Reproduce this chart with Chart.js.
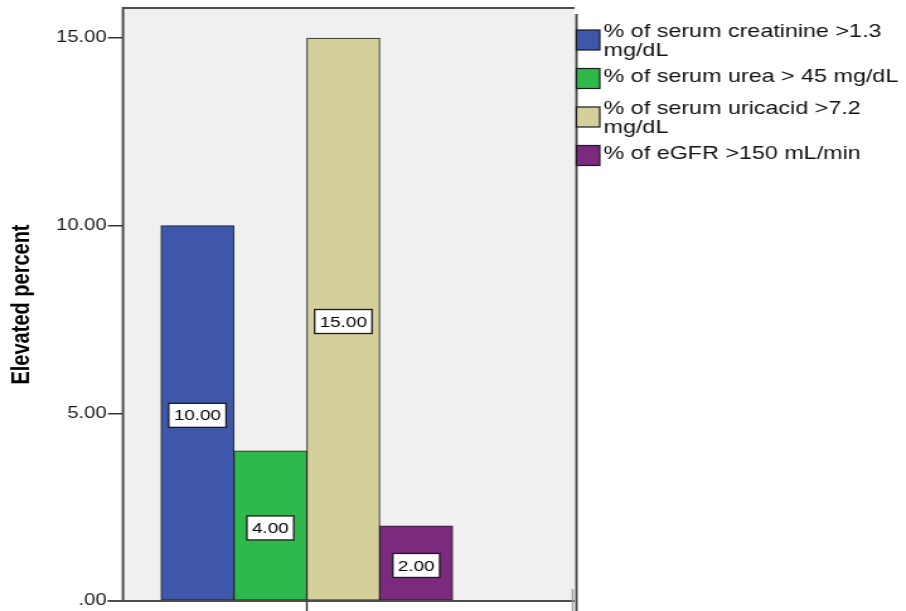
<!DOCTYPE html>
<html>
<head>
<meta charset="utf-8">
<script src="https://cdn.jsdelivr.net/npm/chart.js@4/dist/chart.umd.min.js"></script>
<style>
  html, body { margin: 0; padding: 0; background: #ffffff; overflow: hidden; }
  /* the whole figure is drawn narrow and widened, as in the exported original */
  #wrap { width: 719px; height: 611px; transform: scaleX(1.26); transform-origin: 0 0; }
  canvas { display: block; }
</style>
</head>
<body>
<div id="wrap"><canvas id="c" width="719" height="611"></canvas></div>
<script>
// Series shown as one clustered group of bars
const seriesNames = [
  '% of serum creatinine >1.3 mg/dL',
  '% of serum urea > 45 mg/dL',
  '% of serum uricacid >7.2 mg/dL',
  '% of eGFR >150 mL/min'
];
const seriesValues = [10, 4, 15, 2];
const seriesColors = ['#3e57aa', '#2fb84b', '#d4cf9b', '#7b2a7e'];
const yTickValues = [0, 5, 10, 15];
const yTitle = 'Elevated percent';

const FONT = "'Liberation Sans', Arial, sans-serif";
const fmt = v => v.toFixed(2).replace(/^0(?=\.)/, '');

const datasets = seriesNames.map((name, i) => ({
  label: name,
  data: [{ x: i + 1, y: seriesValues[i] }],
  backgroundColor: seriesColors[i],
  borderColor: '#1c1c1c',
  borderWidth: 1,
  borderSkipped: false,
  grouped: false,
  barPercentage: 1,
  categoryPercentage: 1
}));

// wraps a legend entry into lines that fit the given width
function wrapText(ctx, text, maxW) {
  const words = text.split(' ');
  const lines = [];
  let cur = '';
  for (const w of words) {
    const t = cur ? cur + ' ' + w : w;
    if (cur && ctx.measureText(t).width > maxW) { lines.push(cur); cur = w; }
    else cur = t;
  }
  if (cur) lines.push(cur);
  return lines;
}

const plotDecor = {
  id: 'plotDecor',
  beforeDraw(chart) {
    const { ctx, chartArea: a } = chart;
    ctx.save();
    ctx.fillStyle = '#f0f0f0';
    ctx.fillRect(a.left, a.top, a.right - a.left, a.bottom - a.top);
    ctx.restore();
  },
  afterDatasetsDraw(chart) {
    const { ctx, chartArea: a, scales } = chart;
    const H = chart.height;
    ctx.save();
    // frame
    ctx.strokeStyle = '#4d4d4d';
    ctx.lineWidth = 2;
    ctx.beginPath();
    ctx.moveTo(a.left, a.bottom); ctx.lineTo(a.left, a.top); ctx.lineTo(a.right, a.top);
    ctx.moveTo(a.left - 12, a.bottom); ctx.lineTo(a.right, a.bottom);
    ctx.moveTo(a.right + 1.5, a.top + 6); ctx.lineTo(a.right + 1.5, H);
    ctx.stroke();
    // category tick under the group
    ctx.lineWidth = 1.4;
    ctx.strokeStyle = '#333333';
    const cx = scales.x.getPixelForValue((1 + seriesValues.length) / 2);
    ctx.beginPath();
    ctx.moveTo(cx, a.bottom); ctx.lineTo(cx, H);
    ctx.stroke();
    ctx.strokeStyle = '#9a9a9a';
    ctx.beginPath();
    ctx.moveTo(a.right - 1.5, a.bottom - 12); ctx.lineTo(a.right - 1.5, H);
    ctx.stroke();

    // value labels in boxes at half height of each bar
    ctx.font = '15px ' + FONT;
    ctx.textAlign = 'center';
    ctx.textBaseline = 'middle';
    chart.data.datasets.forEach((ds, i) => {
      const el = chart.getDatasetMeta(i).data[0];
      const v = ds.data[0].y;
      const txt = fmt(v);
      const w = ctx.measureText(txt).width + 8;
      const h = 24;
      const y = scales.y.getPixelForValue(v / 2) + 2;
      ctx.fillStyle = '#ffffff';
      ctx.fillRect(el.x - w / 2, y - h / 2, w, h);
      ctx.strokeStyle = '#1a1a1a';
      ctx.lineWidth = 1.3;
      ctx.strokeRect(el.x - w / 2, y - h / 2, w, h);
      ctx.fillStyle = '#000000';
      ctx.fillText(txt, el.x, y + 1);
    });
    ctx.restore();
  },
  afterDraw(chart) {
    // legend to the right of the plot
    const { ctx, chartArea: a } = chart;
    ctx.save();
    ctx.font = '18.5px ' + FONT;
    ctx.textAlign = 'left';
    ctx.textBaseline = 'middle';
    const boxX = a.right + 1.5;
    const boxW = 18.5, boxH = 20;
    const textX = boxX + boxW + 3;
    const maxW = chart.width - textX - 1;
    const lineH = 19;
    chart.data.datasets.forEach((ds, i) => {
      const cy = 40 + i * 38.5;
      ctx.fillStyle = ds.backgroundColor;
      ctx.fillRect(boxX, cy - boxH / 2, boxW, boxH);
      ctx.strokeStyle = '#1a1a1a';
      ctx.lineWidth = 1.2;
      ctx.strokeRect(boxX, cy - boxH / 2, boxW, boxH);
      const lines = wrapText(ctx, ds.label, maxW);
      ctx.fillStyle = '#111111';
      const off = lines.length > 1 ? 1.5 : -2;
      lines.forEach((ln, k) => {
        ctx.fillText(ln, textX, cy + off + (k - (lines.length - 1) / 2) * lineH);
      });
    });
    ctx.restore();
  }
};

new Chart(document.getElementById('c'), {
  type: 'bar',
  data: { datasets },
  options: {
    responsive: false,
    devicePixelRatio: 1,
    animation: false,
    layout: { padding: { left: 0, top: 8, right: 263, bottom: 10 } },
    plugins: { legend: { display: false }, tooltip: { enabled: false } },
    scales: {
      x: {
        type: 'linear',
        offset: false,
        grid: { offset: false },
        min: -0.02,
        max: 6.17,
        display: false,
        afterBuildTicks: s => { s.ticks = [{ value: (1 + seriesValues.length) / 2 }]; }
      },
      y: {
        min: 0,
        max: 15.8,
        afterBuildTicks: s => { s.ticks = yTickValues.map(v => ({ value: v })); },
        afterFit: s => { s.width = 97.6; s.paddingTop = 0; s.paddingBottom = 0; },
        border: { display: false },
        grid: {
          drawOnChartArea: false,
          drawTicks: true,
          tickLength: 12,
          color: '#333333',
          lineWidth: 1.5
        },
        ticks: {
          padding: 1,
          color: '#1a1a1a',
          font: { family: FONT, size: 16 },
          callback: v => fmt(v)
        },
        title: {
          display: true,
          text: yTitle,
          color: '#000000',
          font: { family: FONT, size: 20, weight: 'bold' },
          padding: { top: 5.5, bottom: 0 }
        }
      }
    }
  },
  plugins: [plotDecor]
});
</script>
</body>
</html>
